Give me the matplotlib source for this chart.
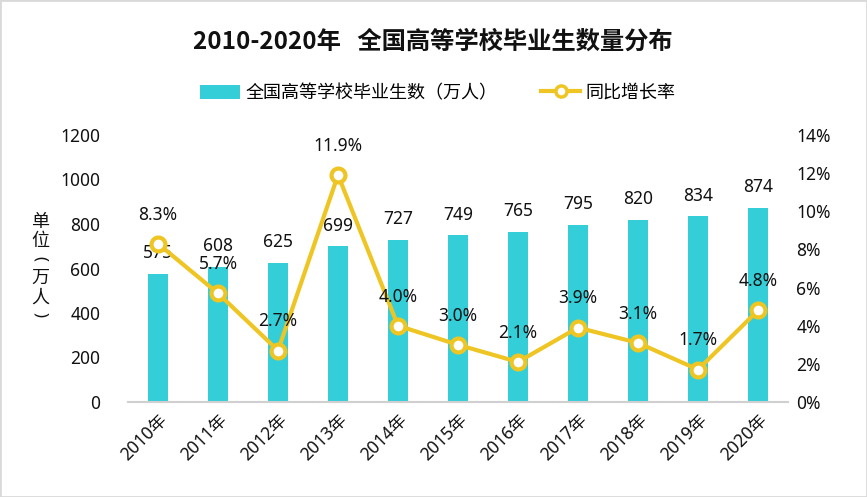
import matplotlib
matplotlib.use("Agg")
import matplotlib.pyplot as plt
from matplotlib.patches import Rectangle
from matplotlib.lines import Line2D
from matplotlib.patches import Patch

plt.rcParams['font.family'] = ['Noto Sans', 'Noto Sans CJK SC', 'DejaVu Sans']

years = ['2010年', '2011年', '2012年', '2013年', '2014年', '2015年',
         '2016年', '2017年', '2018年', '2019年', '2020年']
graduates = [575, 608, 625, 699, 727, 749, 765, 795, 820, 834, 874]
growth = [8.3, 5.7, 2.7, 11.9, 4.0, 3.0, 2.1, 3.9, 3.1, 1.7, 4.8]

bar_color = '#33CED8'
line_color = '#EEC523'

fig = plt.figure(figsize=(8.67, 4.97), dpi=100)
ax = fig.add_axes([128/867, (497-402)/497, 660/867, 267/497])
ax2 = ax.twinx()

x = list(range(len(years)))
ax.bar(x, graduates, width=0.32, color=bar_color, zorder=2)
ax.set_xlim(-0.5, len(years) - 0.5)
ax.set_ylim(0, 1200)
ax.set_yticks(range(0, 1201, 200))
ax.set_xticks(x)
ax.set_xticklabels(years, rotation=45, ha='right', rotation_mode='anchor', fontsize=12.5)
ax.tick_params(axis='both', length=0, labelsize=12.5, colors='#111111')
ax.tick_params(axis='y', pad=20)
ax.tick_params(axis='x', pad=6)
for s in ['top', 'right', 'left']:
    ax.spines[s].set_visible(False)
ax.spines['bottom'].set_color('#D0D0D0')
ax.spines['bottom'].set_linewidth(1.5)

for xi, v in zip(x, graduates):
    ax.annotate(f'{v}', (xi, v), xytext=(0, 15), textcoords='offset points',
                ha='center', va='center', fontsize=12.5, color='#111111', zorder=5)

ax2.plot(x, growth, color=line_color, linewidth=3, marker='o', markersize=10,
         markerfacecolor='white', markeredgecolor=line_color, markeredgewidth=3, zorder=3)
ax2.set_ylim(0, 14)
ax2.set_yticks(range(0, 15, 2))
ax2.set_yticklabels([f'{t}%' for t in range(0, 15, 2)])
ax2.tick_params(axis='y', length=0, labelsize=12.5, colors='#111111', pad=6)
for s in ['top', 'right', 'left', 'bottom']:
    ax2.spines[s].set_visible(False)

for xi, v in zip(x, growth):
    ax2.annotate(f'{v:.1f}%', (xi, v), xytext=(0, 21), textcoords='offset points',
                 ha='center', va='center', fontsize=12.5, color='#111111', zorder=6)

# vertical axis title
ylab_chars = [('单', 222, 0, 13), ('位', 241, 0, 13), ('(', 259, -90, 12),
              ('万', 278, 0, 13), ('人', 298, 0, 13), (')', 315, -90, 12)]
for ch, yy, rot, fs in ylab_chars:
    fig.text(40/867, 1 - yy/497, ch, ha='center', va='center', fontsize=fs,
             rotation=rot, rotation_mode='anchor', color='#111111')

fig.text(433/867, 1 - 42/497, '2010-2020年   全国高等学校毕业生数量分布', ha='center',
         va='center', fontsize=17.5, fontweight='bold', color='#111111',
         family=['Noto Sans CJK SC'])

handles = [Patch(facecolor=bar_color, edgecolor='none'),
           Line2D([0], [0], color=line_color, linewidth=3, marker='o', markersize=8,
                  markerfacecolor='white', markeredgecolor=line_color, markeredgewidth=2.5)]
labels = ['全国高等学校毕业生数（万人）', '同比增长率']
fig.legend(handles, labels, loc='center', bbox_to_anchor=(438/867, 1 - 93/497), ncol=2,
           frameon=False, fontsize=13, handlelength=2.2, handleheight=0.8,
           columnspacing=2.4, handletextpad=0.3)

fig.patches.append(Rectangle((0, 0), 1, 1, transform=fig.transFigure, fill=False,
                             edgecolor='#D9D9D9', linewidth=2))

fig.savefig('out.png', dpi=100, facecolor='white')
